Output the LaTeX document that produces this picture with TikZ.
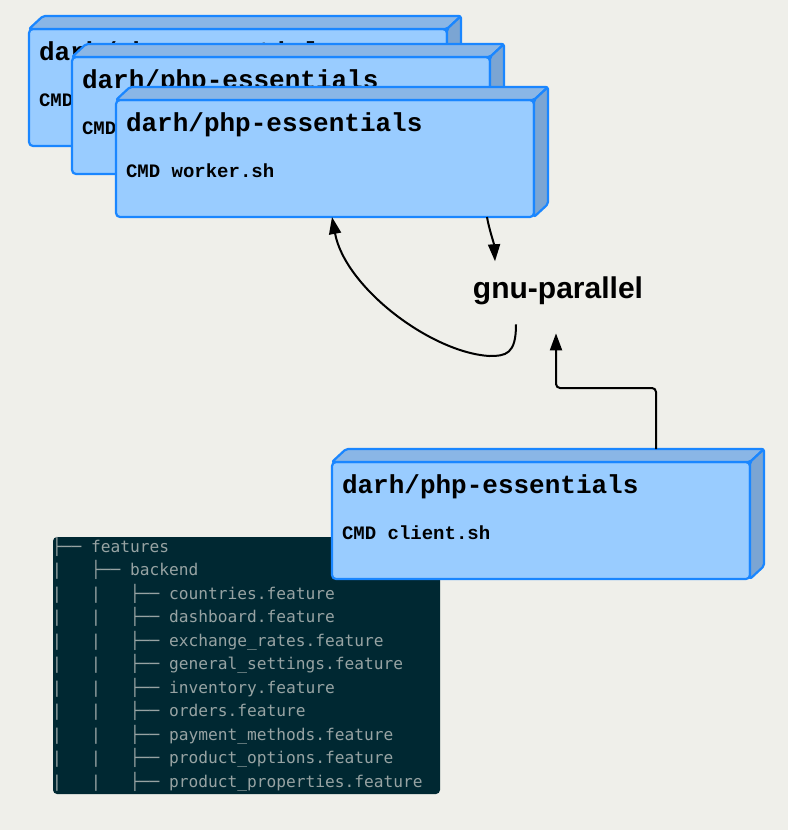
\documentclass[tikz,border=0pt]{standalone}
\usepackage{fontspec}
\setmainfont{Liberation Sans}
\newfontfamily\imgfont{Liberation Mono}
\newfontfamily\termfont{DejaVu Sans Mono}
\usetikzlibrary{arrows.meta}
\definecolor{bg}{HTML}{EFEFEA}
\definecolor{boxfront}{HTML}{99CCFF}
\definecolor{boxtop}{HTML}{8AB6E6}
\definecolor{boxside}{HTML}{7BA5D3}
\definecolor{boxline}{HTML}{1A86FF}
\definecolor{termbg}{HTML}{002832}
\definecolor{termtext}{HTML}{97A3A3}
\tikzset{imgbox/.style = {draw=boxline, fill=boxfront, line width=2.2pt, rounded corners=4pt, minimum width=418pt, minimum height=117pt, inner sep=0pt, outer sep=0pt, anchor=north west}}
\tikzset{topface/.style = {draw=boxline, fill=boxtop, line width=2.2pt, rounded corners=2pt, line join=round}}
\tikzset{sideface/.style = {draw=boxline, fill=boxside, line width=2.2pt, rounded corners=2pt, line join=round}}
\tikzset{imgtitle/.style = {anchor=base west, inner sep=0pt, font=\imgfont\bfseries\fontsize{26}{26}\selectfont}}
\tikzset{imgcmd/.style = {anchor=base west, inner sep=0pt, font=\imgfont\bfseries\fontsize{19}{19}\selectfont}}
\tikzset{tool/.style = {anchor=base, inner sep=0pt, font=\bfseries\fontsize{30}{30}\selectfont}}
\tikzset{terminal/.style = {fill=termbg, rounded corners=4pt, minimum width=387pt, minimum height=257pt, inner sep=0pt, anchor=north west}}
\tikzset{treeline/.style = {anchor=base west, inner sep=0pt, text=termtext, font=\termfont\fontsize{16.2}{16.2}\selectfont}}

% one container image: front face, top and side faces, two lines of text
\newcommand{\dockerimage}[4]{
  \node [imgbox] (#1) at (#2,#3) {};
  \filldraw [topface] (#1.north west) -- ++(14,-13) -- ([shift={(14,-13)}]#1.north east) -- (#1.north east) -- cycle;
  \filldraw [sideface] (#1.north east) -- ++(14,-13) -- ([shift={(14,-13)}]#1.south east) -- (#1.south east) -- cycle;
  \node [imgtitle] (#1-t) at ([shift={(9,31)}]#1.north west) {darh/php-essentials};
  \node [imgcmd] (#1-c) at ([shift={(9,77)}]#1.north west) {CMD #4};
}

\begin{document}
\begin{tikzpicture}[x=1pt, y=-1pt, >={Triangle[length=17pt,width=12pt]}, line width=2pt]
  \useasboundingbox (0,0) rectangle (788,830);
  \fill [bg] (0,0) rectangle (788,830);

  \dockerimage{img1}{29}{29}{worker.sh}
  \dockerimage{img2}{72}{57}{worker.sh}
  \dockerimage{img3}{116}{100}{worker.sh}

  \node [tool] (gnu) at (558,298) {gnu-parallel};
  \coordinate (turn) at (489,356);

  \draw [->] ([xshift=162pt]img3.south) .. controls +(2,12) and +(-1,-18) .. ([shift={(-63,-14)}]gnu.north);
  \draw [->] ([shift={(-42,19)}]gnu.south) .. controls +(0,30) and +(17,0) .. (turn)
    .. controls +(-59,-4) and +(13,70) .. ([xshift=7pt]img3.south);

  % directory listing
  \node [terminal] (tree) at (52,536) {};
  \node [treeline] (t1) at (51,552) {├──~features};
  \node [treeline] (t2) at (51,575.5) {|~~~├──~backend};
  \foreach \f [count=\i from 3] in {countries, dashboard, exchange\_rates, general\_settings, inventory, orders, payment\_methods, product\_options, product\_properties}
    \node [treeline] (t\i) at (51,{552+23.5*(\i-1)}) {|~~~|~~~├──~\f.feature};

  \dockerimage{client}{332}{462}{client.sh}

  \draw [->, rounded corners=4pt] ([shift={(115,-13)}]client.north) -- ++(0,-61) -| ([shift={(-2,28)}]gnu.south);
\end{tikzpicture}
\end{document}
